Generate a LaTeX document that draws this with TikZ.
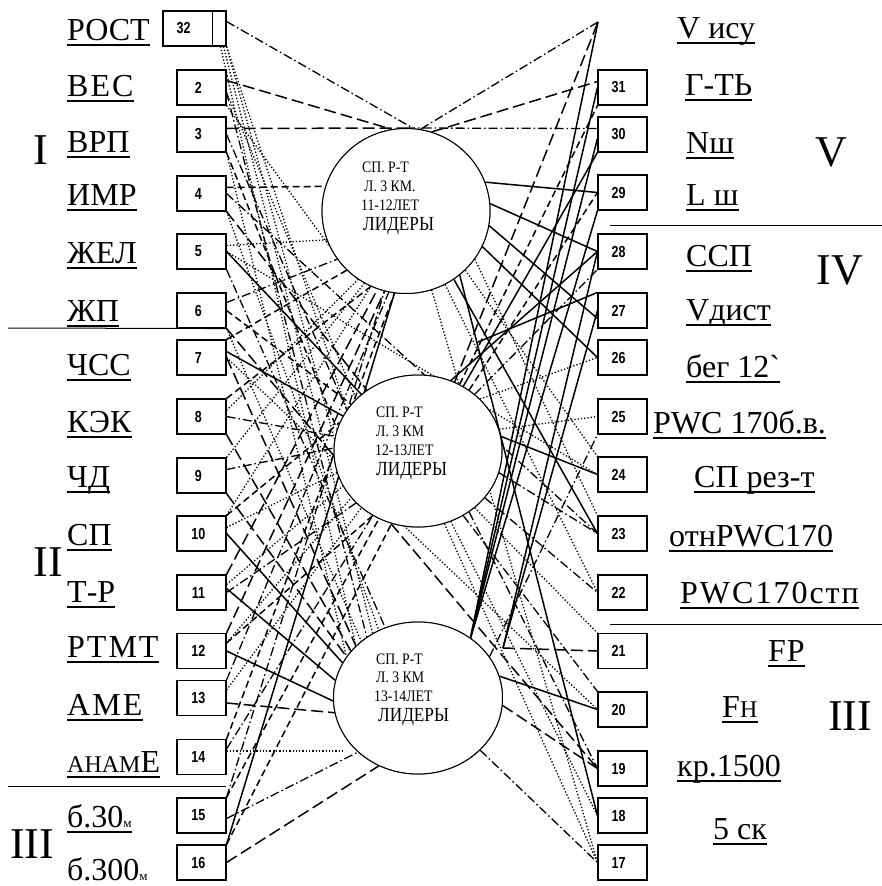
\documentclass[tikz,border=0pt]{standalone}
\usepackage{fontspec}
\setmainfont{Liberation Serif}
\newfontfamily\rawserif{Liberation Serif}[Ligatures=TeXOff]
\newfontfamily\numfont{Liberation Sans}
\usetikzlibrary{shapes.geometric}
\newcommand\lbl[4]{\node[lab] (#1) at (#2,#3) {#4};
  \draw[uline] ([yshift=-4.5pt]#1.base west) -- ([yshift=-4.5pt]#1.base east);}
\newcommand\ctx[4]{\node[ctext,font=\fontsize{#4}{#4}\selectfont] at (#1,#2) {#3};}
\begin{document}
\begin{tikzpicture}[x=1pt,y=-1pt,
  box/.style={draw, fill=white, line width=1.1pt, minimum width=49pt, minimum height=35pt, inner sep=0pt},
  num/.style={font=\numfont\bfseries\fontsize{16}{16}\selectfont, inner sep=0pt, xscale=0.78},
  circ/.style={ellipse, draw, line width=1pt, fill=white, inner sep=0pt},
  sl/.style={line width=1.5pt},
  ld/.style={line width=1.5pt, dash pattern=on 12pt off 5pt},
  md/.style={line width=1.5pt, dash pattern=on 7pt off 4pt},
  dd/.style={line width=1.3pt, dash pattern=on 9pt off 3pt on 1.5pt off 3pt},
  dt/.style={line width=1.3pt, dash pattern=on 1.3pt off 2pt},
  lab/.style={anchor=base west, inner sep=0pt, font=\fontsize{32}{32}\selectfont},
  uline/.style={line width=2pt},
  rom/.style={font=\fontsize{44}{44}\selectfont, inner sep=0pt},
  sepline/.style={line width=1pt},
  ctext/.style={anchor=west, inner sep=0pt, xscale=0.86}]
\useasboundingbox (0,0) rectangle (882,886);

% ---------- nodes (boxes, circles) ----------
\node[circ, minimum width=168pt, minimum height=165pt] (C1) at (406,211) {};
\node[circ, minimum width=168pt, minimum height=152pt] (C2) at (418,451) {};
\node[circ, minimum width=169pt, minimum height=152pt] (C3) at (418,698) {};

\node[box, minimum width=63pt] (L32) at (194.5,28.5) {};
\foreach \n/\y in {2/87.5,3/134.5,4/193.5,5/251.5,6/310.5,7/357.5,8/416.5,9/475.5,10/533.5,11/592.5,12/651,13/698,14/757,15/815.5,16/862.5}
  \node[box] (L\n) at (201.5,\y) {};
\foreach \n/\y in {31/87.5,30/134.5,29/192.5,28/251.5,27/310.5,26/357.5,25/416.5,24/474.5,23/533.5,22/592.5,21/651,20/709.5,19/768.5,18/815.5,17/862.5}
  \node[box] (R\n) at (622.5,\y) {};

\coordinate (vtop) at (598,22);
\coordinate (j1) at (470,640);
\coordinate (j2) at (503,648);
\coordinate (k1) at (478,342);
\coordinate (e14) at (343,751);

% ---------- connectors ----------
% left box 32
\draw[dd] ([yshift=7pt]L32.east) -- (C1.85);
\draw[dt] (L32.south east) -- (C2.150);
\draw[dt] ([xshift=-3pt]L32.south east) -- (C3.125);
\draw[dt] (L32.south east) -- (C2.172);
\draw[dt] ([xshift=-6pt]L32.south east) -- (C3.140);
% 2
\draw[ld] ([yshift=7pt]L2.east) -- (C1.100);
\draw[dt] ([yshift=-5pt]L2.east) -- (C2.140);
\draw[dd] ([yshift=-5pt]L2.east) -- (C3.130);
\draw[dt] (L2.south east) -- (C1.205);
% 3
\draw[ld] ([yshift=6pt]L3.east) -- (C1.north);
\draw[dd] (C1.north) -- ([yshift=6pt]R30.west);
\draw[dd] (L3.east) -- (C2.150);
\draw[dt] (L3.south east) -- (C3.150);
\draw[md] (L3.south east) -- (C2.165);
% 4
\draw[md] ([yshift=6pt]L4.east) -- (C1.163);
\draw[ld] (L4.south east) -- (C2.130);
\draw[dt] (L4.south east) -- (C3.120);
\draw[dd] (L4.east) -- (R23.west);
% 5
\draw[dt] ([yshift=6pt]L5.east) -- (C1.200);
\draw[sl] (L5.east) -- (C2.135);
\draw[dd] (L5.south east) -- (C3.115);
\draw[dt] (L5.east) -- (R24.west);
% 6
\draw[dd] ([yshift=8pt]L6.east) -- (C1.215);
\draw[md] (L6.east) -- (C2.145);
\draw[dt] (L6.south east) -- (C3.135);
\draw[ld] (L6.south east) -- (R19.west);
% 7
\draw[sl] ([yshift=6pt]L7.east) -- (C2.155);
\draw[ld] (L7.east) -- (C3.140);
\draw[md] (L7.north east) -- (C1.225);
\draw[dt] (L7.east) -- (R20.west);
% 8
\draw[dd] (L8.east) -- (C2.170);
\draw[dt] ([yshift=6pt]L8.east) -- (C1.235);
\draw[md] (L8.north east) -- (C1.245);
\draw[ld] (L8.south east) -- (C3.145);
% 9
\draw[dd] ([yshift=6pt]L9.east) -- (C2.178);
\draw[dt] (L9.north east) -- (C1.240);
\draw[ld] (L9.south east) -- (C3.150);
% 10
\draw[sl] (L10.east) -- (C3.155);
\draw[dt] ([yshift=6pt]L10.east) -- (C2.195);
\draw[dt] (L10.north east) -- (C1.245);
\draw[md] (L10.north east) -- (C2.160);
% 11
\draw[sl] ([yshift=4pt]L11.east) -- (C3.168);
\draw[dt] ([yshift=8pt]L11.east) -- (C2.205);
\draw[ld] (L11.north east) -- (C1.250);
\draw[dd] (L11.east) -- (C2.220);
% 12
\draw[sl] (L12.east) -- (C3.182);
\draw[dt] ([yshift=8pt]L12.east) -- (C2.215);
\draw[ld] (L12.north east) -- (C1.255);
\draw[md] ([yshift=8pt]L12.east) -- (C2.235);
% 13
\draw[ld] ([yshift=-5pt]L13.east) -- (C3.190);
\draw[dt] ([yshift=8pt]L13.east) -- (C2.225);
\draw[dd] (L13.north east) -- (C1.258);
% 14
\draw[dt] ([yshift=6pt]L14.east) -- (e14);
\draw[dd] ([yshift=8pt]L14.east) -- (C2.235);
\draw[md] (L14.north east) -- (C1.262);
% 15
\draw[dd] ([yshift=-3pt]L15.east) -- (C3.222);
\draw[dd] (L15.north east) -- (C1.255);
\draw[md] (L15.north east) -- (C2.240);
% 16
\draw[ld] (L16.east) -- (C3.240);
\draw[sl] (L16.north east) -- (C1.262);
\draw[md] (L16.north east) -- (C2.250);
% right side
\draw[dd] (vtop) -- (C1.80);
\draw[sl] (j1) -- (vtop);
\draw[ld] (C2.62) -- (vtop);
\draw[ld] (C1.72) -- ([yshift=6pt]R31.west);
\draw[sl] (j1) -- (R31.west);
\draw[md] (C2.58) -- (R31.south west);
\draw[sl] (j1) -- ([yshift=-4pt]R30.west);
\draw[sl] (C2.55) -- (R30.south west);
\draw[sl] (C1.20) -- (R29.west);
\draw[sl] (j1) -- (R29.south west);
\draw[md] (C2.50) -- (R29.west);
\draw[sl] (C1.5) -- (R28.west);
\draw[sl] (j2) -- (R28.west);
\draw[dd] (C2.45) -- (R28.south west);
\draw[sl] (C1.-10) -- ([yshift=-8pt]R27.west);
\draw[sl] (k1) -- (R27.north west);
\draw[sl] (j2) -- (R27.west);
\draw[sl] (C1.-25) -- (R26.west);
\draw[dt] (C2.40) -- (R26.west);
\draw[sl] (C2.65) -- (R28.west);
\draw[dt] (C2.15) -- (R25.west);
\draw[dd] (C3.30) -- (R25.south west);
\draw[sl] (C2.10) -- (R24.west);
\draw[dt] (C1.-45) -- (R24.north west);
\draw[sl] (C1.-55) -- (R23.west);
\draw[dd] (C2.-15) -- (R23.west);
\draw[dt] (C1.-35) -- (R23.north west);
\draw[dt] (C1.-62) -- (R22.west);
\draw[dd] (C2.-35) -- (R22.west);
\draw[ld] (j2) -- (R21.west);
\draw[dt] (C2.-45) -- (R21.north west);
\draw[sl] (C3.15) -- (R20.west);
\draw[dd] (C2.-55) -- (R20.north west);
\draw[ld] (C3.-5) -- (R19.west);
\draw[dd] (C2.-50) -- (R19.west);
\draw[sl] (C1.-50) -- (R18.west);
\draw[dt] (C2.-65) -- (R18.west);
\draw[dd] (C3.-40) -- (R17.west);
\draw[dt] (C2.-70) -- (R17.west);
\draw[dt] (C1.-72) -- (R17.west);

% redraw circles and boxes on top
\node[circ, minimum width=168pt, minimum height=165pt] at (406,211) {};
\node[circ, minimum width=168pt, minimum height=152pt] at (418,451) {};
\node[circ, minimum width=169pt, minimum height=152pt] at (418,698) {};
\node[box, minimum width=63pt] at (194.5,28.5) {};
\node[num] at (183.5,28.5) {32};
\draw[line width=1.1pt] ([xshift=-14pt]L32.north east) -- ([xshift=-14pt]L32.south east);
\foreach \n/\y in {2/87.5,3/134.5,4/193.5,5/251.5,6/310.5,7/357.5,8/416.5,9/475.5,10/533.5,11/592.5,12/651,13/698,14/757,15/815.5,16/862.5}
  \node[box, label={[num,xshift=-4pt]center:\n}] at (201.5,\y) {};
\foreach \n/\y in {31/87.5,30/134.5,29/192.5,28/251.5,27/310.5,26/357.5,25/416.5,24/474.5,23/533.5,22/592.5,21/651,20/709.5,19/768.5,18/815.5,17/862.5}
  \node[box, label={[num,xshift=-5pt]center:\n}] at (622.5,\y) {};

% circle texts
\ctx{362}{167}{СП. Р-Т}{16}
\ctx{364}{186}{Л. 3 КМ.}{16}
\ctx{361}{205}{11-12ЛЕТ}{16}
\ctx{363}{226}{ЛИДЕРЫ}{20}
\ctx{376}{412}{СП. Р-Т}{16}
\ctx{376}{431}{Л. 3 КМ}{16}
\ctx{375}{450}{12-13ЛЕТ}{16}
\ctx{376}{471}{ЛИДЕРЫ}{20}
\ctx{376}{659}{СП. Р-Т}{16}
\ctx{376}{677}{Л. 3 КМ}{16}
\ctx{374}{696}{13-14ЛЕТ}{16}
\ctx{378}{717}{ЛИДЕРЫ}{20}

% left labels
\lbl{a1}{67}{40}{РОСТ}
\lbl{a2}{67}{96}{В\kern2ptЕ\kern2ptС}
\lbl{a3}{67}{152}{ВРП}
\lbl{a4}{67}{205}{ИМР}
\lbl{a5}{67}{263}{ЖЕЛ}
\lbl{a6}{67}{321}{ЖП}
\lbl{a7}{67}{375}{ЧСС}
\lbl{a8}{67}{432}{КЭК}
\lbl{a9}{67}{487}{ЧД}
\lbl{a10}{67}{545}{СП}
\lbl{a11}{67}{602}{Т-Р}
\lbl{a12}{67}{657}{Р\kern2ptТ\kern2ptМ\kern2ptТ}
\lbl{a13}{67}{715}{А\kern2ptМ\kern2ptЕ}
\lbl{a14}{67}{772}{{\fontsize{24}{24}\selectfont АНАМ}Е}
\lbl{a15}{67}{827}{б.30{\fontsize{13}{13}\selectfont м}}
\node[lab] (a16) at (67,880) {б.300{\fontsize{13}{13}\selectfont м}};

% right labels
\lbl{b0}{677}{38}{V ису}
\lbl{b31}{685}{95}{Г-ТЬ}
\lbl{b30}{686}{153}{Nш}
\lbl{b29}{686}{205}{L ш}
\lbl{b28}{686}{266}{ССП}
\lbl{b27}{686}{320}{Vдист}
\lbl{b26}{686}{377}{{\rawserif бег 12`}}
\lbl{b25}{653}{433}{PWC 170б.в.}
\lbl{b24}{694}{487}{СП рез-т}
\lbl{b23}{669}{546}{отнPWC170}
\lbl{b22}{680}{603}{P\kern2ptW\kern2ptC\kern2pt1\kern2pt7\kern2pt0\kern2ptс\kern2ptт\kern2ptп}
\lbl{b21}{768}{661}{F\kern1ptP}
\lbl{b20}{722}{717}{F{\fontsize{24}{24}\selectfont Н}}
\lbl{b19}{677}{776}{кр.1500}
\lbl{b18}{713}{839}{5 ск}

% roman numerals
\node[rom] (r1) at (41,150) {I};
\node[rom] (r2) at (48,562) {II};
\node[rom] (r3) at (32,844) {III};
\node[rom] (r5) at (831,152) {V};
\node[rom] (r4) at (840,270) {IV};
\node[rom] (r3b) at (850,716) {III};

% separators
\draw[sepline] (8,328) -- (L6.south east);
\draw[sepline] (8,786) -- (226,786);
\draw[sepline] (610,225) -- (882,225);
\draw[sepline] (610,624) -- (882,624);
\end{tikzpicture}
\end{document}
